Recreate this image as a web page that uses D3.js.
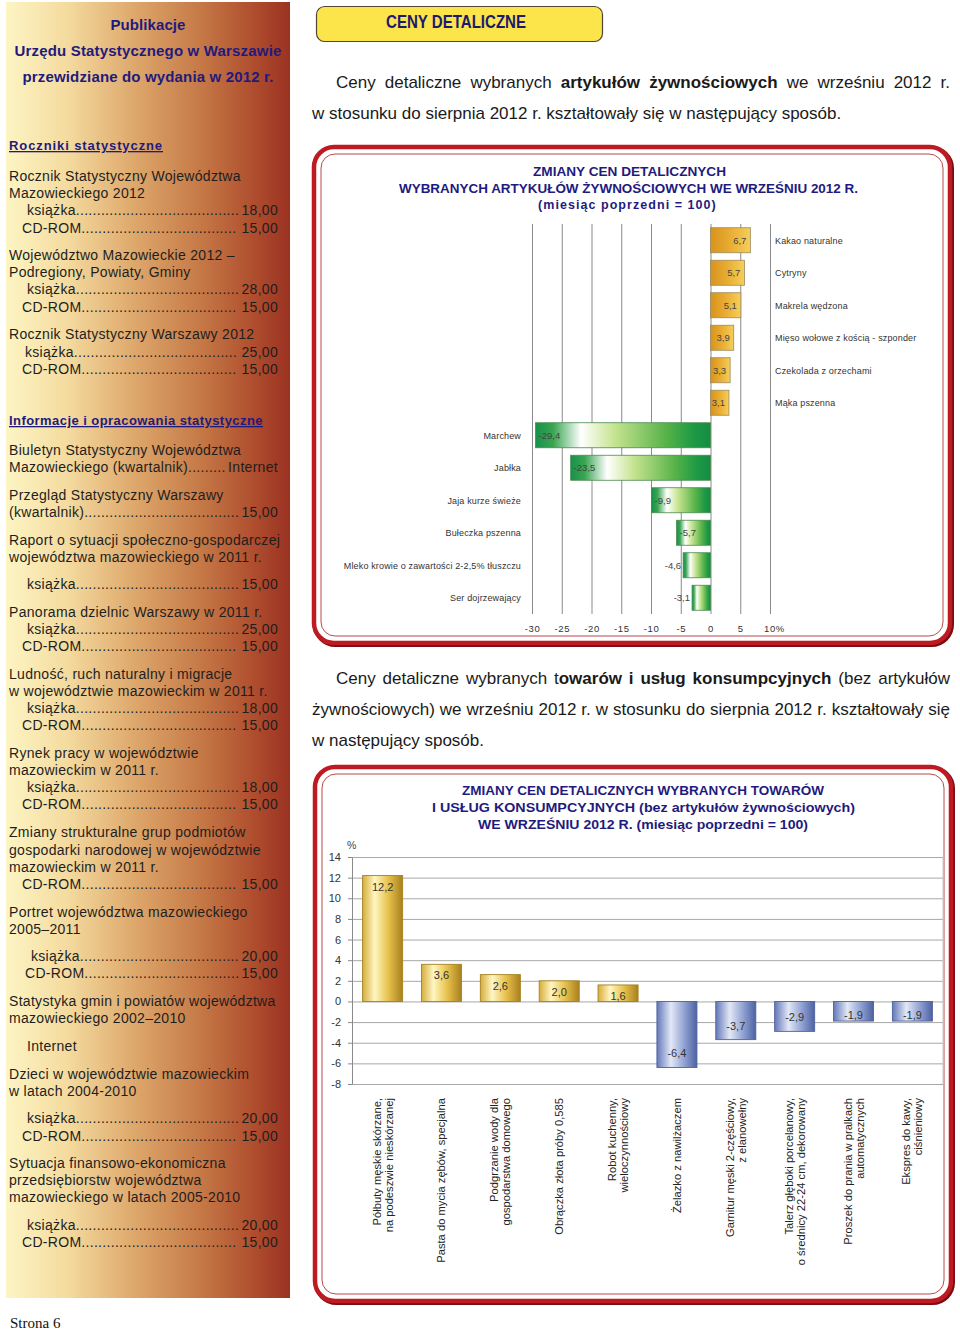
<!DOCTYPE html>
<html><head><meta charset="utf-8">
<script src="https://cdn.jsdelivr.net/npm/d3@7"></script>
<style>body{margin:0;background:#fff}svg{display:block;font-family:"Liberation Sans",Arial,sans-serif}</style>
</head><body><svg id="c" width="960" height="1330"></svg>
<script>
// ---------- DATA ----------
const foodCats = ["Kakao naturalne","Cytryny","Makrela wędzona","Mięso wołowe z kością - szponder","Czekolada z orzechami","Mąka pszenna","Marchew","Jabłka","Jaja kurze świeże","Bułeczka pszenna","Mleko krowie o zawartości 2-2,5% tłuszczu","Ser dojrzewający"];
const foodVals = [6.7,5.7,5.1,3.9,3.3,3.1,-29.4,-23.5,-9.9,-5.7,-4.6,-3.1];
const foodTicks = [-30,-25,-20,-15,-10,-5,0,5,10];
const foodTitle = ["ZMIANY CEN DETALICZNYCH","WYBRANYCH ARTYKUŁÓW ŻYWNOŚCIOWYCH WE WRZEŚNIU 2012 R.","(miesiąc  poprzedni  =  100)"];

const goodsCats = [
  ["Półbuty męskie skórzane,","na podeszwie nieskórzanej"],
  ["Pasta do mycia zębów, specjalna"],
  ["Podgrzanie wody dla","gospodarstwa domowego"],
  ["Obrączka złota próby 0,585"],
  ["Robot kuchenny,","wieloczynnościowy"],
  ["Żelazko z nawilżaczem"],
  ["Garnitur męski 2-częściowy,","z elanowełny"],
  ["Talerz głęboki porcelanowy,","o średnicy 22-24 cm, dekorowany"],
  ["Proszek do prania w pralkach","automatycznych"],
  ["Ekspres do kawy,","ciśnieniowy"]
];
const goodsVals = [12.2,3.6,2.6,2.0,1.6,-6.4,-3.7,-2.9,-1.9,-1.9];
const goodsTicks = [-8,-6,-4,-2,0,2,4,6,8,10,12,14];
const goodsTitle = ["ZMIANY CEN DETALICZNYCH WYBRANYCH TOWARÓW","I USŁUG KONSUMPCYJNYCH (bez artykułów żywnościowych)","WE WRZEŚNIU 2012 R. (miesiąc poprzedni = 100)"];

const sideTitle = ["Publikacje","Urzędu Statystycznego w Warszawie","przewidziane do wydania w 2012 r."];
// [centre y, text, value, indent]
const pubLines = [
 [145,"Roczniki statystyczne","H"],
 [176,"Rocznik Statystyczny Województwa"],
 [193,"Mazowieckiego 2012"],
 [210,"książka ","18,00",27],
 [228,"CD-ROM","15,00",22],
 [255,"Województwo Mazowieckie 2012 –"],
 [272,"Podregiony, Powiaty, Gminy"],
 [289,"książka ","28,00",27],
 [307,"CD-ROM","15,00",22],
 [334,"Rocznik Statystyczny Warszawy 2012"],
 [352,"książka","25,00",25],
 [369,"CD-ROM","15,00",22],
 [420,"Informacje i opracowania statystyczne","H"],
 [450,"Biuletyn Statystyczny Województwa"],
 [467,"Mazowieckiego (kwartalnik) ","Internet",9],
 [495,"Przegląd Statystyczny Warszawy"],
 [512,"(kwartalnik) ","15,00",9],
 [540,"Raport o sytuacji społeczno-gospodarczej"],
 [557,"województwa mazowieckiego w 2011 r."],
 [584,"książka ","15,00",27],
 [612,"Panorama dzielnic Warszawy w 2011 r."],
 [629,"książka ","25,00",27],
 [646,"CD-ROM","15,00",22],
 [674,"Ludność, ruch naturalny i migracje"],
 [691,"w województwie mazowieckim w 2011 r."],
 [708,"książka ","18,00",27],
 [725,"CD-ROM","15,00",22],
 [753,"Rynek pracy w województwie"],
 [770,"mazowieckim w 2011 r."],
 [787,"książka ","18,00",27],
 [804,"CD-ROM","15,00",22],
 [832,"Zmiany strukturalne grup podmiotów"],
 [850,"gospodarki narodowej w województwie"],
 [867,"mazowieckim w 2011 r."],
 [884,"CD-ROM ","15,00",22],
 [912,"Portret województwa mazowieckiego"],
 [929,"2005–2011"],
 [956,"książka ","20,00",31],
 [973,"CD-ROM","15,00",25],
 [1001,"Statystyka gmin i powiatów województwa"],
 [1018,"mazowieckiego 2002–2010"],
 [1046,"Internet",null,27],
 [1074,"Dzieci w województwie mazowieckim"],
 [1091,"w latach 2004-2010"],
 [1118,"książka ","20,00",27],
 [1136,"CD-ROM","15,00",22],
 [1163,"Sytuacja finansowo-ekonomiczna"],
 [1180,"przedsiębiorstw województwa"],
 [1197,"mazowieckiego w latach 2005-2010"],
 [1225,"książka ","20,00",27],
 [1242,"CD-ROM","15,00",22]
];

// ---------- HELPERS ----------
const svg = d3.select("#c");
const defs = svg.append("defs");
function grad(id, stops, vertical){
  const g = defs.append("linearGradient").attr("id",id)
    .attr("x1",0).attr("y1",0).attr("x2",vertical?0:1).attr("y2",vertical?1:0);
  stops.forEach(s=>g.append("stop").attr("offset",s[0]).attr("stop-color",s[1]));
}
grad("gSide",[[0,"#fdf5c4"],[0.22,"#f4da9e"],[0.45,"#dea86c"],[0.68,"#c67a47"],[0.88,"#ae4c2d"],[1,"#9a3222"]]);
grad("gOrange",[[0,"#d8931c"],[0.5,"#e9ad33"],[1,"#f6cf5a"]]);
grad("gGreen",[[0,"#16924a"],[0.1,"#3aa552"],[0.26,"#ffffff"],[0.45,"#c6e490"],[0.75,"#56b248"],[0.9,"#1e9a45"],[1,"#148c42"]]);
grad("gGold",[[0,"#d6ad3c"],[0.3,"#fff6c2"],[0.65,"#e6c04a"],[1,"#a9801f"]]);
grad("gBlue",[[0,"#6378b8"],[0.35,"#e2e8f6"],[0.7,"#8d9ed0"],[1,"#4d62a2"]]);

function fitLS(t,target){
  const n=t.text().length, w=t.node().getComputedTextLength();
  t.attr("letter-spacing",((target-w)/Math.max(1,n)).toFixed(3));
}
function squeeze(t,target){
  t.attr("textLength",target).attr("lengthAdjust","spacingAndGlyphs");
}
function justify(t,target){
  const w=t.node().getComputedTextLength();
  const n=(t.text().match(/ /g)||[]).length;
  if(n) t.attr("word-spacing",((target-w)/n).toFixed(3));
}
const fmt = v => v.toFixed(1).replace(".",",");

// ---------- SIDEBAR ----------
svg.append("rect").attr("x",6).attr("y",2).attr("width",284).attr("height",1296).attr("fill","url(#gSide)");
const navy="#1f1b7e";
const stW=[75,267,251];
sideTitle.forEach((s,i)=>{
  const t=svg.append("text").attr("x",148).attr("y",30+i*26).attr("text-anchor","middle")
    .attr("font-size",15).attr("font-weight","bold").attr("fill",navy).text(s);
  fitLS(t,stW[i]);
});
const dotProbe=svg.append("text").attr("font-size",14).attr("letter-spacing",0.3).text("..........");
const dotW=dotProbe.node().getComputedTextLength()/10; dotProbe.remove();
pubLines.forEach(p=>{
  const [cy,txt,val,ind]=p;
  if(val==="H"){
    const t=svg.append("text").attr("x",9).attr("y",cy+5).attr("font-size",13).attr("font-weight","bold")
      .attr("fill",navy).attr("text-decoration","underline").text(txt);
    fitLS(t, txt.startsWith("Roczniki")?154:254);
    return;
  }
  const x=ind||9;
  const t=svg.append("text").attr("x",x).attr("y",cy+5).attr("font-size",14).attr("letter-spacing",0.3)
    .attr("fill","#1e1e1e").text(txt);
  if(val){
    const v=svg.append("text").attr("x",278).attr("y",cy+5).attr("font-size",14).attr("letter-spacing",0.3)
      .attr("text-anchor","end").attr("fill","#1e1e1e").text(val);
    const end=x+t.node().getComputedTextLength();
    const start=278-v.node().getComputedTextLength();
    const n=Math.max(0,Math.floor((start-end-1)/dotW));
    svg.append("text").attr("x",end).attr("y",cy+5).attr("font-size",14).attr("letter-spacing",0.3)
      .attr("fill","#1e1e1e").text(".".repeat(n));
  }
});
svg.append("text").attr("x",10).attr("y",1328).attr("font-family","'Liberation Serif',serif").attr("font-size",15)
  .attr("fill","#111").text("Strona 6");

// ---------- HEADER ----------
svg.append("rect").attr("x",316.5).attr("y",6.5).attr("width",286).attr("height",35).attr("rx",8)
  .attr("fill","#fbe54b").attr("stroke","#4f4636").attr("stroke-width",1.2);
const hd=svg.append("text").attr("x",386).attr("y",28).attr("font-size",18)
  .attr("font-weight","bold").attr("fill","#1d1a6e").text("CENY DETALICZNE");
squeeze(hd,140);

function para(x,y,parts,target){
  const t=svg.append("text").attr("x",x).attr("y",y).attr("font-size",17).attr("fill","#1a1a1a");
  parts.forEach(p=>t.append("tspan").attr("font-weight",p[1]?"bold":null).text(p[0]));
  if(target) justify(t,target);
  return t;
}
para(336,88,[["Ceny detaliczne wybranych ",0],["artykułów żywnościowych",1],[" we wrześniu 2012 r.",0]],614);
para(312,119,[["w stosunku do sierpnia 2012 r. kształtowały się w następujący sposób.",0]]);
para(336,684,[["Ceny detaliczne wybranych t",0],["owarów i usług konsumpcyjnych",1],[" (bez artykułów",0]],614);
para(312,715,[["żywnościowych) we wrześniu 2012 r. w stosunku do sierpnia 2012 r. kształtowały się",0]],638);
para(312,746,[["w następujący sposób.",0]]);

// ---------- FRAMES ----------
function frame(x,y,w,h){
  svg.append("rect").attr("x",x+1.5).attr("y",y+1.5).attr("width",w).attr("height",h).attr("rx",20)
    .attr("fill","none").attr("stroke","#7a0c12").attr("stroke-width",5);
  svg.append("rect").attr("x",x).attr("y",y).attr("width",w).attr("height",h).attr("rx",20)
    .attr("fill","#fff").attr("stroke","#bd1a22").attr("stroke-width",4.5);
  svg.append("rect").attr("x",x+7).attr("y",y+7).attr("width",w-14).attr("height",h-14).attr("rx",14)
    .attr("fill","none").attr("stroke","#b84a4a").attr("stroke-width",1);
}
frame(314,147,636,496);
frame(315,767,636,534);

// ---------- CHART 1 ----------
const tW1=[[533,193],[399,459],[538,182]];
foodTitle.forEach((s,i)=>{
  const t=svg.append("text").attr("x",tW1[i][0]).attr("y",176+i*16.5)
    .attr("font-size",13.5).attr("font-weight","bold").attr("fill",navy).text(s);
  if(i<2) squeeze(t,tW1[i][1]); else { t.attr("font-size",12.5); fitLS(t,tW1[i][1]); }
});
const x1=d3.scaleLinear().domain([-30,10]).range([532,770]);
const y1=d3.scaleBand().domain(foodCats).range([224,614]).paddingInner(0.23).paddingOuter(0.115);
const ax1=svg.append("g").attr("transform","translate(0,614)")
  .call(d3.axisBottom(x1).tickValues(foodTicks).tickSize(-390).tickPadding(11)
    .tickFormat(d=>d===10?"10%":String(d)));
ax1.select(".domain").remove();
ax1.selectAll(".tick line").attr("stroke","#8a8a8a");
ax1.selectAll(".tick text").attr("font-size",9.5).attr("fill","#333").attr("letter-spacing",0.6)
  .attr("font-family","'Liberation Sans',Arial,sans-serif");
ax1.selectAll(".tick text").filter(d=>d===10).attr("dx",4);

const g1=svg.append("g");
g1.selectAll("rect").data(foodVals).join("rect")
  .attr("x",d=>x1(Math.min(0,d))).attr("width",d=>Math.abs(x1(d)-x1(0)))
  .attr("y",(d,i)=>y1(foodCats[i])).attr("height",y1.bandwidth())
  .attr("fill",d=>d>=0?"url(#gOrange)":"url(#gGreen)")
  .attr("stroke",d=>d>=0?"#9a8a60":"#4a8a50").attr("stroke-width",0.8);
g1.selectAll("text.v").data(foodVals).join("text").attr("class","v")
  .attr("x",d=>d>=0?x1(d)-4:(d<-5?x1(d)+3:x1(d)-2))
  .attr("text-anchor",d=>d>=0?"end":(d<-5?"start":"end"))
  .attr("y",(d,i)=>y1(foodCats[i])+y1.bandwidth()/2+3.5)
  .attr("font-size",9.5).attr("fill","#444").text(fmt);
g1.selectAll("text.c").data(foodVals).join("text").attr("class","c")
  .attr("x",d=>d>=0?775:521).attr("text-anchor",d=>d>=0?"start":"end")
  .attr("y",(d,i)=>y1(foodCats[i])+y1.bandwidth()/2+3.5)
  .attr("font-size",9).attr("letter-spacing",0.15).attr("fill","#333").text((d,i)=>foodCats[i]);

// ---------- CHART 2 ----------
const tW2=[[462,362],[432,423],[478,330]];
goodsTitle.forEach((s,i)=>{
  const t=svg.append("text").attr("x",tW2[i][0]).attr("y",795+i*17)
    .attr("font-size",13.5).attr("font-weight","bold").attr("fill",navy).text(s);
  squeeze(t,tW2[i][1]);
});
const x2=d3.scaleBand().domain(d3.range(goodsVals.length)).range([352,943]).paddingInner(0.32).paddingOuter(0.18);
const y2=d3.scaleLinear().domain([-8,14]).range([1084,857]);
const grid2=svg.append("g").attr("transform","translate(352,0)")
  .call(d3.axisLeft(y2).tickValues(goodsTicks).tickSize(-591).tickFormat(""));
grid2.select(".domain").remove();
grid2.selectAll(".tick line").attr("stroke","#a8a8a8");
svg.append("line").attr("x1",943).attr("x2",943).attr("y1",y2(14)).attr("y2",y2(-8)).attr("stroke","#c8c8c8");
const ax2=svg.append("g").attr("transform","translate(352,0)")
  .call(d3.axisLeft(y2).tickValues(goodsTicks).tickSize(4).tickSizeOuter(0).tickPadding(7).tickFormat(d=>String(d)));
ax2.select(".domain").attr("stroke","#8a8a8a");
ax2.selectAll(".tick line").attr("stroke","#8a8a8a");
ax2.selectAll(".tick text").attr("font-size",11).attr("fill","#333").attr("font-family","'Liberation Sans',Arial,sans-serif");
svg.append("text").attr("x",347).attr("y",849).attr("font-size",10.5).attr("fill","#444").text("%");

const g2=svg.append("g");
g2.selectAll("rect").data(goodsVals).join("rect")
  .attr("x",(d,i)=>x2(i)).attr("width",x2.bandwidth())
  .attr("y",d=>y2(Math.max(0,d))).attr("height",d=>Math.abs(y2(d)-y2(0)))
  .attr("fill",d=>d>=0?"url(#gGold)":"url(#gBlue)")
  .attr("stroke",d=>d>=0?"#a4821f":"#4e62a0").attr("stroke-width",0.9);
g2.selectAll("text.v").data(goodsVals).join("text").attr("class","v")
  .attr("x",(d,i)=>x2(i)+x2.bandwidth()/2).attr("text-anchor","middle")
  .attr("y",d=>d>=0?y2(d)+15:Math.max(y2(d)-14,y2(0)+14)+4)
  .attr("font-size",11).attr("fill","#333").text(fmt);
goodsCats.forEach((lines,i)=>{
  const cx=x2(i)+x2.bandwidth()/2;
  lines.forEach((ln,j)=>{
    const lx=cx+(j-(lines.length-1)/2)*12+4;
    svg.append("text").attr("transform",`translate(${lx},1098) rotate(-90)`).attr("text-anchor","end")
      .attr("font-size",11.2).attr("fill","#222").text(ln);
  });
});
</script></body></html>
